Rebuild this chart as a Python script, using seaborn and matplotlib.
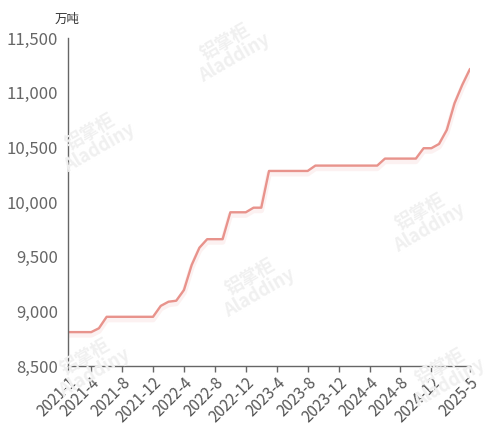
import numpy as np
import pandas as pd
import matplotlib
matplotlib.use("Agg")
import matplotlib.pyplot as plt
import matplotlib.patheffects as pe
import seaborn as sns

# ---- data (monthly, 2021-1 .. 2025-5), unit: 万吨 ----
months = pd.period_range("2021-01", "2025-05", freq="M").strftime("%Y-%-m").tolist()
values = [8810, 8810, 8810, 8810, 8845,
          8950, 8950, 8950, 8950, 8950, 8950, 8950,
          9050, 9088, 9097, 9195, 9424, 9582,
          9660, 9660, 9660,
          9906, 9906, 9906,
          9948, 9948,
          10284, 10284, 10284, 10284, 10284, 10284,
          10333, 10333, 10333, 10333, 10333, 10333, 10333, 10333, 10333,
          10397, 10397, 10397, 10397, 10397,
          10492, 10492, 10531, 10659, 10903, 11071, 11217]
tick_labels = ["2021-1", "2021-4", "2021-8", "2021-12", "2022-4", "2022-8", "2022-12",
               "2023-4", "2023-8", "2023-12", "2024-4", "2024-8", "2024-12", "2025-5"]
unit = "万吨"

df = pd.DataFrame({"month": months, "value": values})
df["idx"] = np.arange(len(df))
tick_pos = [months.index(t) for t in tick_labels]

# ---- style ----
sns.set_theme(style="white")
plt.rcParams["font.family"] = ["Noto Sans CJK SC", "DejaVu Sans"]

line_color = "#e8938c"
grey = "#666666"

fig = plt.figure(figsize=(4.97, 4.26), dpi=100)
ax = fig.add_axes([68 / 497, 60 / 426, 402 / 497, 328 / 426])

# faint watermarks
for (wx, wy) in [(230, 50), (95, 140), (255, 285), (90, 365), (445, 375), (425, 220)]:
    fig.text(wx / 497, 1 - wy / 426, "铝掌柜\nAladdiny", rotation=30, ha="center", va="center",
             fontsize=13, color="#f0f0f0", fontweight="bold", linespacing=0.9, zorder=0)

sns.lineplot(data=df, x="idx", y="value", ax=ax, color=line_color, linewidth=1.7,
             path_effects=[pe.SimpleLineShadow(offset=(0, -2), shadow_color=line_color, alpha=0.12,
                                               linewidth=4),
                           pe.Normal()])

ax.set_xlim(0, len(df) - 1)
ax.set_ylim(8500, 11500)
ax.set_yticks(np.arange(8500, 11501, 500))
ax.yaxis.set_major_formatter(matplotlib.ticker.FuncFormatter(lambda v, p: f"{int(v):,}"))
ax.set_xticks(tick_pos)
ax.set_xticklabels(tick_labels, rotation=45, ha="right", rotation_mode="anchor")
ax.set_xlabel("")
ax.set_ylabel("")

ax.tick_params(axis="y", length=0, pad=7, labelsize=12, labelcolor=grey)
ax.tick_params(axis="x", length=4, width=1, color=grey, pad=2, labelsize=11, labelcolor="#555555",
               bottom=True)

for s in ["top", "right"]:
    ax.spines[s].set_visible(False)
for s in ["left", "bottom"]:
    ax.spines[s].set_color(grey)
    ax.spines[s].set_linewidth(1)
ax.patch.set_alpha(0)

fig.text(67 / 497, 1 - 19 / 426, unit, ha="center", va="center", fontsize=9, color="#333333")

fig.savefig("out.png", dpi=100)
